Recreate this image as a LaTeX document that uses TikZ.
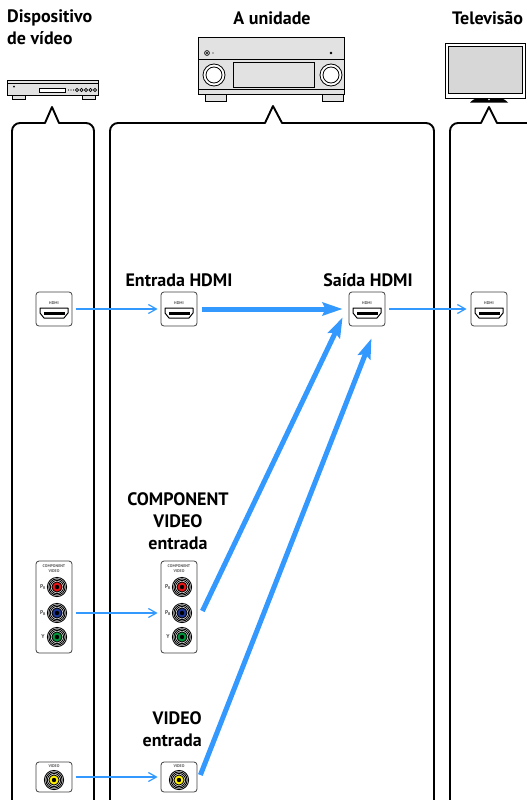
\documentclass[tikz,border=0pt]{standalone}
\usepackage{fontspec}
\setmainfont{PT Sans}
\usetikzlibrary{arrows.meta,calc}

\definecolor{linkblue}{RGB}{51,153,255}
\definecolor{jackred}{RGB}{235,20,20}
\definecolor{jackblue}{RGB}{30,55,150}
\definecolor{jackgreen}{RGB}{0,150,60}
\definecolor{jackyellow}{RGB}{255,240,0}
\definecolor{devgray}{RGB}{226,226,226}
\definecolor{screengray}{RGB}{215,215,215}

\tikzset{
  panel/.style={draw=black, line width=1.9pt, line join=round},
  dev/.style={draw=black, line width=0.8pt},
  heading/.style={font=\bfseries\fontsize{18}{22}\selectfont, inner sep=0pt},
  portbox/.style={draw=black!75, line width=0.8pt, rounded corners=3pt, fill=white, inner sep=0pt},
  tinytext/.style={font=\bfseries\fontsize{4}{4.2}\selectfont, text=black!65, inner sep=0pt},
  jacklabel/.style={font=\bfseries\fontsize{5.5}{5.5}\selectfont, text=black!70, inner sep=0pt},
  smallarrow/.style={draw=linkblue, line width=1.2pt, -{Straight Barb[length=8pt,width=9pt]}},
  bigarrow/.style={draw=linkblue, line width=5pt, -{Stealth[length=20pt,width=13pt,inset=3pt]}},
  pics/jack/.style={code={
    \foreach \r in {9.6,8.1,6.6} \draw[line width=0.9pt] (0,0) circle[radius=\r];
    \draw[line width=0.9pt, fill=#1] (0,0) circle[radius=5.1];
    \fill (0,0) circle[radius=2.2];
  }},
  pics/hdmiport/.style={code={
    \node[portbox, minimum width=36pt, minimum height=34pt] (-box) at (0,0) {};
    \node[tinytext] at (0,-6) {HDMI};
    \draw[line width=1pt, fill=white, line join=round]
      (-14,-1) -- (14,-1) -- (14,4) -- (10,9) -- (-10,9) -- (-14,4) -- cycle;
    \fill (-10.5,3) rectangle (10.5,5.6);
  }},
  pics/componentport/.style={code={
    \node[portbox, minimum width=36pt, minimum height=92pt] (-box) at (0,0) {};
    \node[tinytext, align=center] at (0,-38.5) {COMPONENT\\VIDEO};
    \pic at (3,-20) {jack=jackred};
    \pic at (3,6) {jack=jackblue};
    \pic at (3,30) {jack=jackgreen};
    \coordinate (-pb) at (3,6);
    \node[jacklabel] at (-11,-20) {P\textsubscript{R}};
    \node[jacklabel] at (-11,6) {P\textsubscript{B}};
    \node[jacklabel] at (-11,30) {Y};
  }},
  pics/videoport/.style={code={
    \node[portbox, minimum width=36pt, minimum height=30pt] (-box) at (0,0) {};
    \node[tinytext] at (0,-10.5) {VIDEO};
    \pic at (0,3) {jack=jackyellow};
  }},
}

\begin{document}
\begin{tikzpicture}[x=1pt, y=-1pt]
\useasboundingbox (0,0) rectangle (527,800);
\clip (0,0) rectangle (527,800);

% ---------- headings ----------
\node[heading, align=left, anchor=north west] (hdev) at (7,10) {Dispositivo\\de vídeo};
\node[heading, anchor=base] (hunit) at (272,25) {A unidade};
\node[heading, anchor=base west] (htv) at (452,25) {Televisão};

% ---------- video player ----------
\draw[dev, fill=devgray] (12,95) rectangle (25,99);
\draw[dev, fill=devgray] (82,95) rectangle (95,99);
\draw[dev, fill=devgray] (7,80) rectangle (98,95);
\draw[dev] (7,83.5) -- (98,83.5);
\fill (14,86.5) circle[radius=1];
\draw[dev, fill=white] (39,88) rectangle (65,92);
\foreach \x in {68.5,71,73.5} \fill (\x,90) circle[radius=0.6];
\foreach \x in {77,81.5,86,90.5,95} \draw[line width=0.6pt] (\x,90) circle[radius=1.6];

% ---------- AV receiver ----------
\draw[dev, fill=devgray] (205,94) rectangle (226,101);
\draw[dev, fill=devgray] (322,94) rectangle (343,101);
\draw[dev, fill=devgray] (198,37) rectangle (344,94);
\draw[dev] (198,59) -- (344,59);
\draw[dev] (198,89) -- (344,89);
\draw[dev, fill=white] (214,75) circle[radius=11];
\draw[dev] (214,75) circle[radius=8];
\draw[dev, fill=white] (331,75) circle[radius=11];
\draw[dev] (331,75) circle[radius=8];
\draw[dev, fill=devgray] (233,62) rectangle (314,87);
\draw[line width=0.7pt] (207,53) circle[radius=2.4];
\fill (207,53) circle[radius=1.2];
\fill (213,53) circle[radius=0.6];
\fill (331,53) circle[radius=1.3];

% ---------- television ----------
\draw[dev, fill=white] (445,43) rectangle (525,98);
\draw[dev, fill=screengray] (448,46) rectangle (522,93);
\fill (470,102.5) .. controls (474,98) and (478,98) .. (482,98) -- (496,98)
      .. controls (500,98) and (504,98) .. (508,102.5) -- cycle;
\fill[white] (489,99.5) circle[radius=0.8];

% ---------- panels ----------
\draw[panel] (12,805) -- (12,131) arc(180:270:8) -- (45,123) -- (52,107) -- (59,123)
  -- (86,123) arc(270:360:8) -- (94,805);
\draw[panel] (110,805) -- (110,131) arc(180:270:8) -- (265,123) -- (273,106) -- (282,123)
  -- (426,123) arc(270:360:8) -- (434,805);
\draw[panel] (450,805) -- (450,131) arc(180:270:8) -- (481,123) -- (489,107) -- (497,123)
  -- (540,123);

% ---------- ports ----------
\pic (srchdmi) at (54,309) {hdmiport};
\pic (inhdmi) at (179,309) {hdmiport};
\pic (outhdmi) at (367,309) {hdmiport};
\pic (tvhdmi) at (489,309) {hdmiport};
\pic (srccomp) at (54,607) {componentport};
\pic (incomp) at (179,607) {componentport};
\pic (srcvid) at (54,777) {videoport};
\pic (invid) at (179,777) {videoport};

% ---------- port labels ----------
\node[heading, anchor=base] (lin) at (179,286) {Entrada HDMI};
\node[heading, anchor=base] (lout) at (368,286) {Saída HDMI};
\node[heading, align=center, anchor=north] (lcomp) at (178,492) {COMPONENT\\VIDEO\\entrada};
\node[heading, align=right, anchor=north east] (lvid) at (202,711) {VIDEO\\entrada};

% ---------- cables ----------
\draw[smallarrow, shorten <=4pt, shorten >=3pt] (srchdmi-box.east) -- (inhdmi-box.west);
\draw[smallarrow, shorten <=4pt, shorten >=4pt] (outhdmi-box.east) -- (tvhdmi-box.west);
\draw[smallarrow, shorten <=4pt, shorten >=3pt]
  (srccomp-box.east |- srccomp-pb) -- (incomp-box.west |- srccomp-pb);
\draw[smallarrow, shorten <=4pt, shorten >=3pt] (srcvid-box.east) -- (invid-box.west);

% ---------- internal routing ----------
\draw[bigarrow, shorten <=5pt, shorten >=6pt] (inhdmi-box.east) -- (outhdmi-box.west);
\draw[bigarrow] ($(incomp-box.east)+(5,4)$) -- ($(outhdmi-box.south west)+(-6,-9)$);
\draw[bigarrow] ($(invid-box.east)+(3,-2)$) -- ($(outhdmi-box.south)+(4.5,12)$);
\end{tikzpicture}
\end{document}
